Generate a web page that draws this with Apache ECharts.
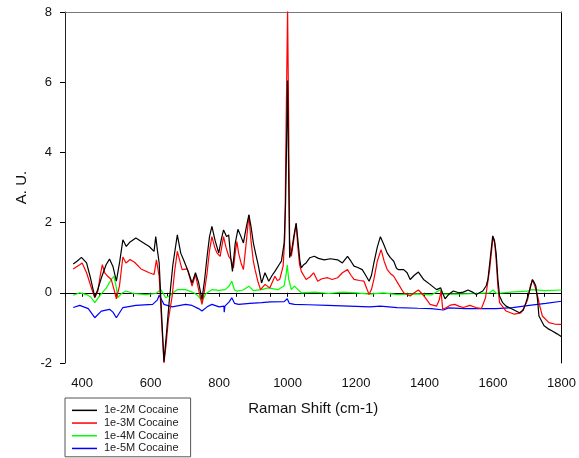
<!DOCTYPE html>
<html>
<head>
<meta charset="utf-8">
<script src="https://cdn.jsdelivr.net/npm/echarts@6/dist/echarts.min.js"></script>
<style>
  html, body { margin: 0; padding: 0; background: #fff; }
  #chart { width: 579px; height: 458px; }
</style>
</head>
<body>
<div id="chart"></div>
<script>
// series names
const seriesNames = ['1e-2M Cocaine', '1e-3M Cocaine', '1e-4M Cocaine', '1e-5M Cocaine'];

// [Raman shift, A.U.]
const cocaine1e2 = [[374,0.82],[385,0.9],[398,1.01],[413,0.85],[425,0.4],[437,-0.12],[446,0.1],[456,0.42],[470,0.8],[480,0.96],[490,0.75],[500,0.33],[510,0.9],[519,1.51],[529,1.32],[540,1.45],[557,1.56],[575,1.45],[596,1.32],[610,1.18],[615,1.6],[620,1.2],[625,0.85],[632,-0.6],[639,-1.96],[646,-1.2],[654,-0.28],[665,0.8],[678,1.65],[688,1.13],[698,0.9],[710,0.6],[721,0.28],[731,0.57],[740,0.3],[750,-0.19],[758,0.4],[765,1.04],[772,1.6],[779,1.89],[788,1.5],[799,1.13],[806,1.5],[813,1.79],[822,1.6],[828,1.65],[834,1.0],[839,0.61],[847,1.4],[855,1.81],[864,1.6],[871,1.42],[880,1.9],[887,2.22],[893,1.9],[900,1.42],[907,1.1],[914,0.8],[924,0.28],[934,0.57],[945,0.33],[955,0.5],[963,0.61],[975,0.8],[982,0.9],[990,1.42],[994,2.5],[997,4.2],[1000,6.05],[1003,3.5],[1006,1.0],[1012,1.2],[1018,1.6],[1025,1.98],[1030,1.5],[1036,0.9],[1040,0.71],[1047,0.8],[1054,0.85],[1065,1.0],[1078,1.04],[1090,0.98],[1107,0.94],[1125,0.97],[1146,0.94],[1160,0.85],[1175,1.04],[1185,0.9],[1194,0.76],[1205,0.72],[1218,0.66],[1228,0.5],[1238,0.33],[1245,0.5],[1252,0.85],[1262,1.3],[1271,1.6],[1280,1.4],[1291,1.13],[1300,1.0],[1310,0.9],[1318,0.7],[1324,0.66],[1339,0.66],[1349,0.57],[1358,0.38],[1370,0.5],[1382,0.59],[1397,0.38],[1416,0.24],[1435,0.09],[1447,0.14],[1452,0.0],[1460,-0.17],[1470,-0.05],[1484,0.05],[1500,0.0],[1513,0.02],[1527,0.08],[1540,0.02],[1551,-0.05],[1570,0.05],[1580,0.2],[1585,0.38],[1592,1.0],[1599,1.62],[1604,1.5],[1609,1.13],[1614,0.4],[1619,-0.09],[1628,-0.28],[1638,-0.38],[1657,-0.47],[1677,-0.57],[1688,-0.5],[1696,-0.28],[1705,0.0],[1715,0.38],[1720,0.3],[1725,0.19],[1730,-0.2],[1734,-0.66],[1749,-0.94],[1760,-1.02],[1773,-1.09],[1787,-1.17],[1800,-1.25]];

const cocaine1e3 = [[374,0.68],[393,0.8],[400,0.85],[413,0.57],[425,0.2],[437,-0.14],[446,0.05],[453,0.5],[459,0.8],[466,0.57],[475,0.47],[485,0.38],[493,0.1],[500,-0.17],[509,0.19],[519,1.02],[528,0.85],[540,0.95],[553,0.87],[572,0.68],[596,0.57],[610,0.52],[617,0.94],[625,0.47],[632,-0.8],[639,-2.0],[645,-1.5],[652,-0.76],[663,-0.09],[670,0.6],[678,1.18],[692,0.66],[707,0.68],[714,0.45],[721,0.19],[731,0.52],[740,0.1],[750,-0.33],[758,0.1],[765,0.57],[772,1.2],[779,1.6],[787,1.3],[794,1.13],[803,1.04],[813,1.6],[820,1.3],[828,1.04],[835,0.95],[842,0.71],[848,1.2],[852,1.46],[857,1.13],[864,0.85],[871,0.66],[880,1.5],[887,2.22],[893,1.5],[900,0.9],[905,0.66],[914,0.3],[921,0.09],[934,0.24],[948,0.14],[963,0.47],[970,0.35],[977,0.38],[987,0.76],[992,1.6],[996,5.0],[1000,8.1],[1003,5.0],[1006,1.5],[1011,1.04],[1018,1.5],[1025,1.98],[1030,1.3],[1035,0.8],[1040,0.61],[1054,0.38],[1065,0.45],[1076,0.57],[1088,0.33],[1100,0.4],[1117,0.43],[1130,0.38],[1146,0.43],[1160,0.57],[1175,0.66],[1185,0.5],[1194,0.38],[1210,0.35],[1223,0.33],[1232,0.1],[1238,-0.05],[1245,0.1],[1252,0.38],[1262,0.9],[1273,1.23],[1282,0.9],[1291,0.66],[1300,0.55],[1310,0.47],[1324,0.24],[1339,0.0],[1358,-0.09],[1370,0.0],[1382,0.08],[1392,-0.02],[1402,-0.14],[1416,-0.33],[1435,-0.38],[1443,-0.2],[1448,0.05],[1453,-0.47],[1464,-0.42],[1476,-0.35],[1488,-0.33],[1500,-0.38],[1513,-0.42],[1532,-0.36],[1550,-0.42],[1566,-0.45],[1578,-0.14],[1590,0.66],[1600,1.6],[1605,1.4],[1609,0.94],[1614,0.2],[1619,-0.28],[1638,-0.52],[1662,-0.61],[1681,-0.57],[1692,-0.4],[1701,-0.19],[1709,0.2],[1715,0.36],[1722,0.2],[1730,-0.09],[1737,-0.4],[1744,-0.66],[1763,-0.85],[1780,-0.89],[1800,-0.9]];

const cocaine1e4 = [[374,-0.07],[393,0.0],[413,-0.05],[425,-0.12],[437,-0.28],[450,-0.1],[471,0.14],[485,0.38],[493,0.47],[500,0.15],[504,-0.14],[515,-0.02],[528,0.05],[550,-0.02],[586,-0.05],[615,-0.02],[630,0.09],[644,-0.14],[654,-0.09],[665,0.0],[678,0.09],[702,0.09],[726,0.0],[740,-0.1],[750,-0.24],[762,-0.02],[779,0.09],[800,0.07],[818,0.09],[830,0.2],[837,0.33],[845,0.08],[852,0.05],[870,0.08],[887,0.19],[900,0.06],[924,0.09],[943,0.14],[972,0.09],[990,0.2],[996,0.55],[999,0.8],[1003,0.4],[1011,0.09],[1020,0.19],[1040,0.0],[1080,0.02],[1120,-0.02],[1160,0.02],[1200,0.0],[1240,-0.04],[1280,0.0],[1320,-0.05],[1380,-0.03],[1420,-0.06],[1445,0.08],[1455,-0.04],[1500,-0.04],[1550,-0.02],[1590,0.0],[1600,0.08],[1610,-0.02],[1650,0.02],[1700,0.05],[1715,0.09],[1750,0.06],[1800,0.08]];

const cocaine1e5 = [[374,-0.42],[393,-0.36],[418,-0.45],[437,-0.71],[456,-0.52],[480,-0.47],[490,-0.55],[500,-0.71],[519,-0.42],[557,-0.36],[606,-0.33],[620,-0.2],[625,-0.07],[632,-0.2],[639,-0.33],[663,-0.4],[702,-0.33],[721,-0.36],[740,-0.45],[750,-0.52],[765,-0.4],[779,-0.33],[800,-0.4],[814,-0.38],[815,-0.55],[817,-0.38],[830,-0.25],[837,-0.14],[845,-0.3],[857,-0.33],[890,-0.3],[924,-0.28],[950,-0.26],[990,-0.25],[999,-0.17],[1005,-0.3],[1020,-0.33],[1060,-0.34],[1117,-0.36],[1180,-0.38],[1240,-0.4],[1271,-0.38],[1320,-0.42],[1380,-0.44],[1420,-0.45],[1455,-0.49],[1470,-0.43],[1520,-0.45],[1609,-0.45],[1657,-0.42],[1706,-0.36],[1754,-0.3],[1800,-0.24]];

const seriesData = [cocaine1e2, cocaine1e3, cocaine1e4, cocaine1e5];
const seriesColors = ['#000000', '#ff0000', '#00ff00', '#0000ff'];

const font = 'Liberation Sans, Arial, sans-serif';

const chart = echarts.init(document.getElementById('chart'));

const option = {
    animation: false,
    grid: { left: 65, right: 13, top: 12, bottom: 95, containLabel: false },
    legend: {
        data: seriesNames,
        orient: 'vertical',
        left: 65,
        top: 398,
        padding: [6, 12, 2, 7],
        icon: 'rect',
        itemWidth: 25,
        itemHeight: 1.5,
        itemGap: 0,
        borderColor: '#555',
        borderWidth: 1,
        textStyle: { fontFamily: font, fontSize: 11, lineHeight: 12.7, color: '#222', padding: [0, 0, 0, 2] }
    },
    xAxis: [
        {
            type: 'value',
            min: 350,
            max: 1800,
            interval: 50,
            name: 'Raman Shift (cm-1)',
            nameLocation: 'middle',
            nameGap: 38,
            nameTextStyle: { fontFamily: font, fontSize: 15, color: '#111' },
            axisLine: { show: true, lineStyle: { color: '#000', width: 1 } },
            axisTick: { show: true, interval: 0, inside: false, length: 4, lineStyle: { color: '#000' } },
            axisLabel: {
                interval: 0,
                hideOverlap: false,
                margin: 14,
                fontFamily: font,
                fontSize: 13,
                color: '#111',
                showMaxLabel: true,
                formatter: v => (v % 200 === 0 ? String(v) : '')
            },
            splitLine: { show: false }
        },
        {
            type: 'value',
            position: 'top',
            min: 350,
            max: 1800,
            axisLine: { show: true, onZero: false, lineStyle: { color: '#777', width: 1 } },
            axisTick: { show: false },
            axisLabel: { show: false },
            splitLine: { show: false }
        }
    ],
    yAxis: [
        {
            type: 'value',
            min: -2,
            max: 8,
            interval: 2,
            name: 'A. U.',
            nameLocation: 'middle',
            nameGap: 32,
            nameTextStyle: { fontFamily: font, fontSize: 15, color: '#111' },
            axisLine: { show: true, onZero: false, lineStyle: { color: '#222', width: 1 } },
            axisTick: { show: true, length: 5, lineStyle: { color: '#000' } },
            axisLabel: { margin: 13, fontFamily: font, fontSize: 13, color: '#111' },
            splitLine: { show: false }
        },
        {
            type: 'value',
            position: 'right',
            min: -2,
            max: 8,
            axisLine: { show: true, onZero: false, lineStyle: { color: '#000', width: 1 } },
            axisTick: { show: false },
            axisLabel: { show: false },
            splitLine: { show: false }
        }
    ],
    series: seriesNames.map((name, i) => ({
        name: name,
        type: 'line',
        xAxisIndex: 0,
        yAxisIndex: 0,
        data: seriesData[i],
        symbol: 'none',
        lineStyle: { color: seriesColors[i], width: 1.2 },
        itemStyle: { color: seriesColors[i] },
        z: 10 - i
    }))
};

chart.setOption(option);
</script>
</body>
</html>
